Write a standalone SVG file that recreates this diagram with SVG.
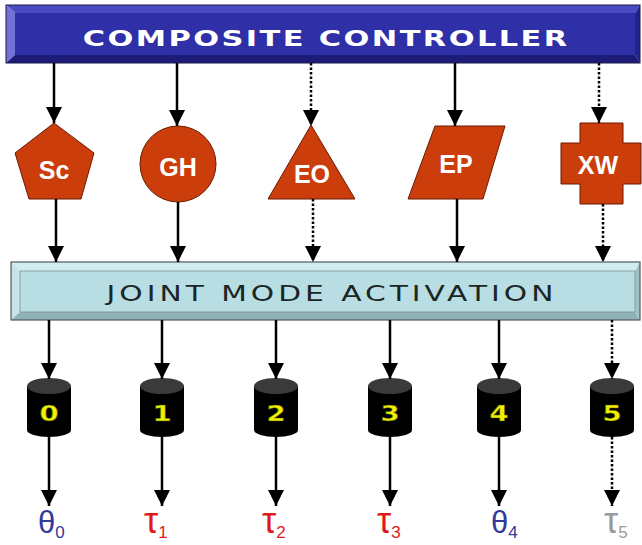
<svg xmlns="http://www.w3.org/2000/svg" width="642" height="545" viewBox="0 0 642 545">
<style>
.conn{stroke:#000;stroke-width:2.5;fill:none}
.dot{stroke-dasharray:2.5 2}
.shape{fill:#cc3d0c;stroke:#6a1a00;stroke-width:1}
.stxt{font-family:"Liberation Sans",Arial,sans-serif;font-weight:bold;font-size:25px;fill:#fff;text-anchor:middle}
.cyl{fill:#000}
.cyltop{fill:#3a3a3a}
.dig{font-family:"DejaVu Sans",sans-serif;font-weight:bold;font-size:22px;fill:#f0f000;text-anchor:middle;stroke:#4a4a00;stroke-width:0.5}
.lab{font-family:"Liberation Sans",Arial,sans-serif;font-size:31px}
.tau{font-size:36px}
.sub{font-size:17px}
.th{fill:#35399a}
.ta{fill:#e01a1a}
.gr{fill:#9a9a9a}
</style>
<defs>
<marker id="ah" markerUnits="userSpaceOnUse" markerWidth="16" markerHeight="16" refX="16" refY="8" orient="auto">
<path d="M0,0 L16,8 L0,16 z" fill="#000"/>
</marker>
</defs>

<g id="composite-controller">
<polygon points="6,5 640,5 635,13 15,13" fill="#4a4ac2"/>
<polygon points="6,5 15,13 15,55 6,63" fill="#7272d6"/>
<polygon points="6,63 15,55 635,55 640,63" fill="#1c1c78"/>
<polygon points="640,5 640,63 635,55 635,13" fill="#22228c"/>
<rect x="15" y="13" width="620" height="42" fill="#2f2fa8"/>
<rect x="6" y="5" width="634" height="58" fill="none" stroke="#1a1a50" stroke-width="1"/>
<text transform="translate(325,46) scale(1.45,1)" x="0" y="0" font-family="DejaVu Sans, sans-serif" font-weight="bold" font-size="21" fill="#fff" text-anchor="middle" textLength="334" lengthAdjust="spacing">COMPOSITE CONTROLLER</text>
</g>

<g id="joint-mode-activation">
<polygon points="11,262 640,262 635,271 20,271" fill="#d2ecf0"/>
<polygon points="11,262 20,271 20,312 11,320" fill="#c6e4e9"/>
<polygon points="11,320 20,312 635,312 640,320" fill="#8fb2b7"/>
<polygon points="640,262 640,320 635,312 635,271" fill="#9fc2c7"/>
<rect x="20" y="271" width="615" height="41" fill="#b8dde3"/>
<rect x="11" y="262" width="629" height="58" fill="none" stroke="#505a5a" stroke-width="1.2"/>
<rect x="20" y="271" width="615" height="41" fill="none" stroke="#7a9598" stroke-width="0.8"/>
<text transform="translate(330,301) scale(1.35,1)" x="0" y="0" font-family="DejaVu Sans, sans-serif" font-size="22" fill="#1a2626" text-anchor="middle" textLength="331" lengthAdjust="spacing">JOINT MODE ACTIVATION</text>
</g>

<g id="node-sc">
<polygon class="shape" points="54,123 94,153 81,199 29,199 15,153"/>
<text class="stxt" x="54" y="179">Sc</text>
</g>
<g id="node-gh">
<circle class="shape" cx="178" cy="164" r="38"/>
<text class="stxt" x="178" y="176">GH</text>
</g>
<g id="node-eo">
<polygon class="shape" points="311,125 355,199 268,199"/>
<text class="stxt" x="312" y="183">EO</text>
</g>
<g id="node-ep">
<polygon class="shape" points="435,126 505,126 483,199 408,199"/>
<text class="stxt" x="456" y="173">EP</text>
</g>
<g id="node-xw">
<polygon class="shape" points="580,123 623,123 623,143 641,143 641,184 623,184 623,204 580,204 580,184 561,184 561,143 580,143"/>
<text class="stxt" x="598" y="174">XW</text>
</g>

<g id="joint-0">
<path class="cyl" d="M27,386 V430 A22,7 0 0 0 71,430 V386 z"/>
<ellipse class="cyltop" cx="49" cy="386" rx="22" ry="8"/>
<text class="dig" transform="translate(49,421) scale(1.25,1)">0</text>
</g>
<g id="joint-1">
<path class="cyl" d="M140,386 V430 A22,7 0 0 0 184,430 V386 z"/>
<ellipse class="cyltop" cx="162" cy="386" rx="22" ry="8"/>
<text class="dig" transform="translate(162,421) scale(1.25,1)">1</text>
</g>
<g id="joint-2">
<path class="cyl" d="M254,386 V430 A22,7 0 0 0 298,430 V386 z"/>
<ellipse class="cyltop" cx="276" cy="386" rx="22" ry="8"/>
<text class="dig" transform="translate(276,421) scale(1.25,1)">2</text>
</g>
<g id="joint-3">
<path class="cyl" d="M368,386 V430 A22,7 0 0 0 412,430 V386 z"/>
<ellipse class="cyltop" cx="390" cy="386" rx="22" ry="8"/>
<text class="dig" transform="translate(390,421) scale(1.25,1)">3</text>
</g>
<g id="joint-4">
<path class="cyl" d="M477,386 V430 A22,7 0 0 0 521,430 V386 z"/>
<ellipse class="cyltop" cx="499" cy="386" rx="22" ry="8"/>
<text class="dig" transform="translate(499,421) scale(1.25,1)">4</text>
</g>
<g id="joint-5">
<path class="cyl" d="M590,386 V430 A22,7 0 0 0 634,430 V386 z"/>
<ellipse class="cyltop" cx="612" cy="386" rx="22" ry="8"/>
<text class="dig" transform="translate(612,421) scale(1.25,1)">5</text>
</g>

<g id="output-labels">
<text class="lab th" x="38" y="533">θ<tspan class="sub" dy="5">0</tspan></text>
<text class="lab tau ta" x="144" y="533">τ<tspan class="sub" dy="5">1</tspan></text>
<text class="lab tau ta" x="262" y="533">τ<tspan class="sub" dy="5">2</tspan></text>
<text class="lab tau ta" x="377" y="533">τ<tspan class="sub" dy="5">3</tspan></text>
<text class="lab th" x="491" y="533">θ<tspan class="sub" dy="5">4</tspan></text>
<text class="lab tau gr" x="604" y="533">τ<tspan class="sub" dy="5">5</tspan></text>
</g>

<g id="connectors">
<line class="conn" x1="54" y1="63" x2="54" y2="123" marker-end="url(#ah)"/>
<line class="conn" x1="177" y1="63" x2="177" y2="126" marker-end="url(#ah)"/>
<line class="conn dot" x1="311" y1="63" x2="311" y2="126" marker-end="url(#ah)"/>
<line class="conn" x1="455" y1="63" x2="455" y2="126" marker-end="url(#ah)"/>
<line class="conn dot" x1="599" y1="63" x2="599" y2="123" marker-end="url(#ah)"/>

<line class="conn" x1="56" y1="199" x2="56" y2="262" marker-end="url(#ah)"/>
<line class="conn" x1="178" y1="202" x2="178" y2="262" marker-end="url(#ah)"/>
<line class="conn dot" x1="313" y1="199" x2="313" y2="262" marker-end="url(#ah)"/>
<line class="conn" x1="457" y1="199" x2="457" y2="262" marker-end="url(#ah)"/>
<line class="conn dot" x1="603" y1="204" x2="603" y2="262" marker-end="url(#ah)"/>

<line class="conn" x1="49" y1="320" x2="49" y2="379" marker-end="url(#ah)"/>
<line class="conn" x1="162" y1="320" x2="162" y2="379" marker-end="url(#ah)"/>
<line class="conn" x1="276" y1="320" x2="276" y2="379" marker-end="url(#ah)"/>
<line class="conn" x1="390" y1="320" x2="390" y2="379" marker-end="url(#ah)"/>
<line class="conn" x1="499" y1="320" x2="499" y2="379" marker-end="url(#ah)"/>
<line class="conn dot" x1="612" y1="320" x2="612" y2="379" marker-end="url(#ah)"/>

<line class="conn" x1="49" y1="437" x2="49" y2="506" marker-end="url(#ah)"/>
<line class="conn" x1="162" y1="437" x2="162" y2="506" marker-end="url(#ah)"/>
<line class="conn" x1="276" y1="437" x2="276" y2="506" marker-end="url(#ah)"/>
<line class="conn" x1="390" y1="437" x2="390" y2="506" marker-end="url(#ah)"/>
<line class="conn" x1="499" y1="437" x2="499" y2="506" marker-end="url(#ah)"/>
<line class="conn dot" x1="612" y1="437" x2="612" y2="506" marker-end="url(#ah)"/>
</g>
</svg>
